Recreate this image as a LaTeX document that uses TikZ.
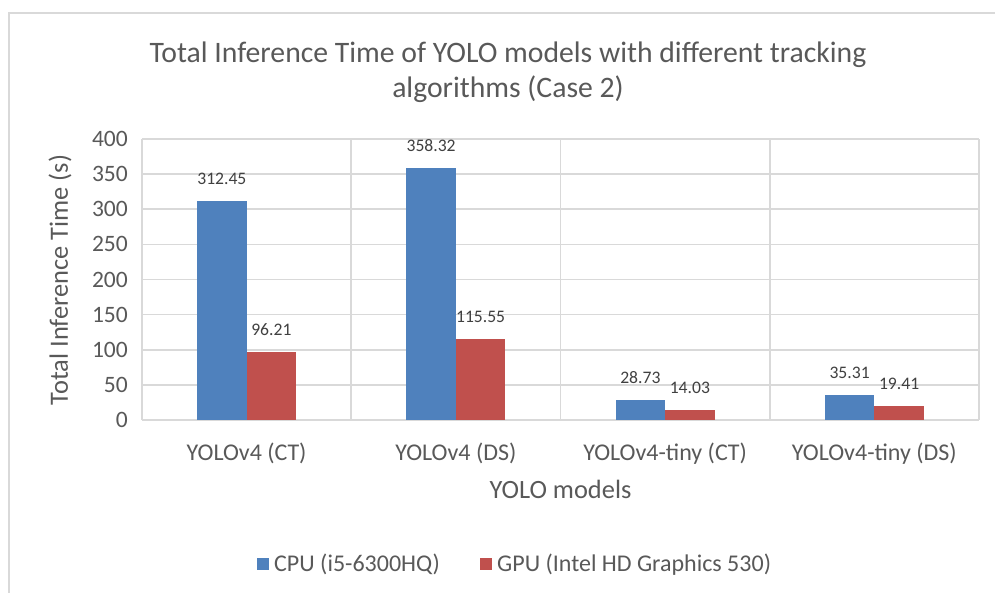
\documentclass[tikz,border=0pt]{standalone}
\usepackage{fontspec}
\setmainfont{Carlito}
\definecolor{cpucol}{HTML}{4F81BD}
\definecolor{gpucol}{HTML}{C0504D}
\definecolor{txtcol}{HTML}{595959}
\definecolor{lblcol}{HTML}{404040}
\definecolor{gridcol}{HTML}{D9D9D9}
\begin{document}
\begin{tikzpicture}[x=1pt,y=-1pt,
  frameline/.style={draw=gridcol,line width=2pt},
  gridline/.style={draw=gridcol,line width=1.6pt},
  cpubar/.style={fill=cpucol,draw=none},
  gpubar/.style={fill=gpucol,draw=none},
  titletext/.style={text=txtcol,inner sep=0pt,font=\fontsize{29.7}{35}\selectfont},
  axistitle/.style={text=txtcol,inner sep=0pt,font=\fontsize{26.4}{30}\selectfont},
  ticklabel/.style={text=txtcol,inner sep=0pt,font=\fontsize{23.5}{28}\selectfont},
  catlabel/.style={text=txtcol,inner sep=0pt,font=\fontsize{24}{28}\selectfont},
  vallabel/.style={text=lblcol,inner sep=0pt,font=\fontsize{17.6}{20}\selectfont},
  legendtext/.style={text=txtcol,inner sep=0pt,font=\fontsize{24}{28}\selectfont}]
\useasboundingbox (0,0) rectangle (995,592);
\fill[white] (0,0) rectangle (995,592);
% chart frame
\draw[frameline] (9,600) -- (9,13) -- (1000,13);
% horizontal gridlines every 50 s
\foreach \v in {0,50,...,400}{
  \draw[gridline] (142,{420-\v*0.7025}) -- (979,{420-\v*0.7025});
  \node[ticklabel,anchor=east] (tick\v) at (128,{420-\v*0.7025}) {\v};
}
% category separators
\foreach \x in {142,351.25,560.5,769.75,979}{
  \draw[gridline] (\x,139) -- (\x,420);
}
% bars and value labels
\foreach \i/\c/\a/\b/\la/\lb/\name in {
  1/246.625/312.45/96.21/312.45/96.21/{YOLOv4 (CT)},
  2/455.875/358.32/115.55/358.32/115.55/{YOLOv4 (DS)},
  3/665.125/28.73/14.03/28.73/14.03/{YOLOv4-tiny (CT)},
  4/874.375/35.31/19.41/35.31/19.41/{YOLOv4-tiny (DS)}}{
  \fill[cpubar] ({\c-49.5},420) rectangle (\c,{420-\a*0.7025});
  \fill[gpubar] (\c,420) rectangle ({\c+49.5},{420-\b*0.7025});
  \node[vallabel,anchor=base] (cpuval\i) at ({\c-24.75},{420-\a*0.7025-16.5}) {\la};
  \node[vallabel,anchor=base] (gpuval\i) at ({\c+24.75},{420-\b*0.7025-16.5}) {\lb};
  \node[catlabel,anchor=base] (cat\i) at (\c,460) {\name};
}
% titles
\node[titletext,anchor=base] (title1) at (508,62) {Total Inference Time of YOLO models with different tracking};
\node[titletext,anchor=base] (title2) at (508,97) {algorithms (Case 2)};
\node[axistitle,rotate=90] (ytitle) at (60,280) {Total Inference Time (s)};
\node[axistitle,anchor=base] (xtitle) at (560.5,498) {YOLO models};
% legend
\fill[cpucol] (257,557.5) rectangle (269,569.5);
\node[legendtext,anchor=base west] (legcpu) at (274,571) {CPU (i5-6300HQ)};
\fill[gpucol] (480,557.5) rectangle (492,569.5);
\node[legendtext,anchor=base west] (leggpu) at (497,571) {GPU (Intel HD Graphics 530)};
\end{tikzpicture}
\end{document}
